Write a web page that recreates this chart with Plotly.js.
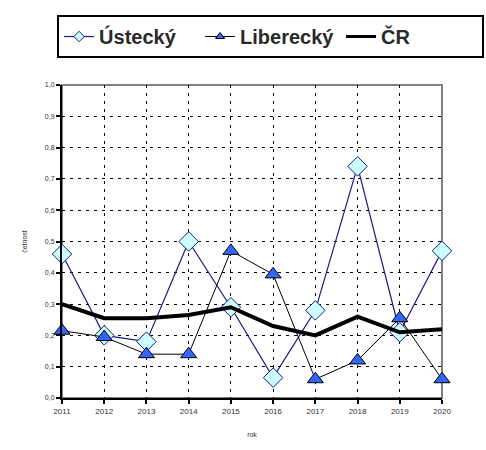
<!DOCTYPE html>
<html><head><meta charset="utf-8">
<script src="https://cdn.plot.ly/plotly-3.0.1.min.js"></script>
<style>body{margin:0;padding:0;background:#fff}#chart{width:486px;height:450px}</style>
</head><body><div id="chart"></div>
<script>
const years = [2011, 2012, 2013, 2014, 2015, 2016, 2017, 2018, 2019, 2020];
const usteckyVals = [0.46, 0.20, 0.18, 0.50, 0.29, 0.065, 0.28, 0.74, 0.21, 0.47];
const libereckyVals = [0.215, 0.195, 0.14, 0.14, 0.47, 0.395, 0.06, 0.12, 0.255, 0.06];
const crVals = [0.30, 0.255, 0.255, 0.265, 0.29, 0.23, 0.20, 0.26, 0.21, 0.22];
const seriesNames = ['Ústecký', 'Liberecký', 'ČR'];
const yTicks = [0, 0.1, 0.2, 0.3, 0.4, 0.5, 0.6, 0.7, 0.8, 0.9, 1.0];

const navy = '#1a1a80';
const usteckyMarker = {symbol: 'diamond', color: '#ccffff', line: {color: navy, width: 1}};
const libereckyMarker = {symbol: 'triangle-up', color: '#3366ff', line: {color: '#000000', width: 1}};

const traces = [
  // legend entries (small symbols as in the original legend)
  {x: [null], y: [null], name: seriesNames[0], mode: 'lines+markers', line: {color: navy, width: 1.2},
   marker: Object.assign({size: 8}, usteckyMarker)},
  {x: [null], y: [null], name: seriesNames[1], mode: 'lines+markers', line: {color: '#000000', width: 1},
   marker: Object.assign({size: 8}, libereckyMarker)},
  {x: [null], y: [null], name: seriesNames[2], mode: 'lines', line: {color: '#000000', width: 3}},
  // data
  {x: years, y: usteckyVals, name: seriesNames[0], showlegend: false, mode: 'lines+markers', cliponaxis: false,
   line: {color: navy, width: 1.2}, marker: Object.assign({size: 15}, usteckyMarker)},
  {x: years, y: libereckyVals, name: seriesNames[1], showlegend: false, mode: 'lines+markers', cliponaxis: false,
   line: {color: '#000000', width: 1}, marker: Object.assign({size: 14}, libereckyMarker)},
  {x: years, y: crVals, name: seriesNames[2], showlegend: false, mode: 'lines', cliponaxis: false,
   line: {color: '#000000', width: 4}}
];
const layout = {
  width: 486, height: 450,
  margin: {l: 62, r: 44, t: 85, b: 52},
  paper_bgcolor: '#ffffff', plot_bgcolor: '#ffffff',
  separators: ', ',
  font: {family: 'Liberation Sans, Arial, sans-serif', color: '#333333'},
  showlegend: true,
  legend: {orientation: 'h', x: -0.013, y: 1.2236, xanchor: 'left', yanchor: 'top',
    bordercolor: '#000000', borderwidth: 2, bgcolor: '#ffffff',
    font: {size: 20, color: '#2a2a2a', family: 'Liberation Sans, Arial, sans-serif', weight: 'bold'},
    itemwidth: 30, tracegroupgap: 0, entrywidth: 96, entrywidthmode: 'pixels'},
  xaxis: {range: [2011, 2020], tickmode: 'array', tickvals: years, ticktext: years.map(String),
    showline: true, linecolor: '#000000', linewidth: 2, ticks: 'outside', ticklen: 4, tickcolor: '#000000', tickwidth: 2,
    showgrid: true, gridcolor: '#000000', griddash: '3px,5px', gridwidth: 1, zeroline: false,
    tickfont: {size: 8, color: '#333333'},
    title: {text: 'rok', font: {size: 7, color: '#333333'}, standoff: 18}},
  yaxis: {range: [0, 1.0], tickmode: 'array', tickvals: yTicks, tickformat: '.1f',
    showline: true, linecolor: '#000000', linewidth: 2, ticks: 'outside', ticklen: 4, tickcolor: '#000000', tickwidth: 2,
    showgrid: true, gridcolor: '#000000', griddash: '3px,5px', gridwidth: 1, zeroline: false,
    tickfont: {size: 7, color: '#333333'},
    title: {text: 'četnost', font: {size: 7, color: '#333333'}, standoff: 16}},
  shapes: [{type: 'rect', xref: 'paper', yref: 'paper', x0: 0, x1: 1, y0: 0, y1: 1,
    line: {color: '#808080', width: 2}, layer: 'below'}]
};
Plotly.newPlot('chart', traces, layout, {displayModeBar: false, staticPlot: true});
</script></body></html>
